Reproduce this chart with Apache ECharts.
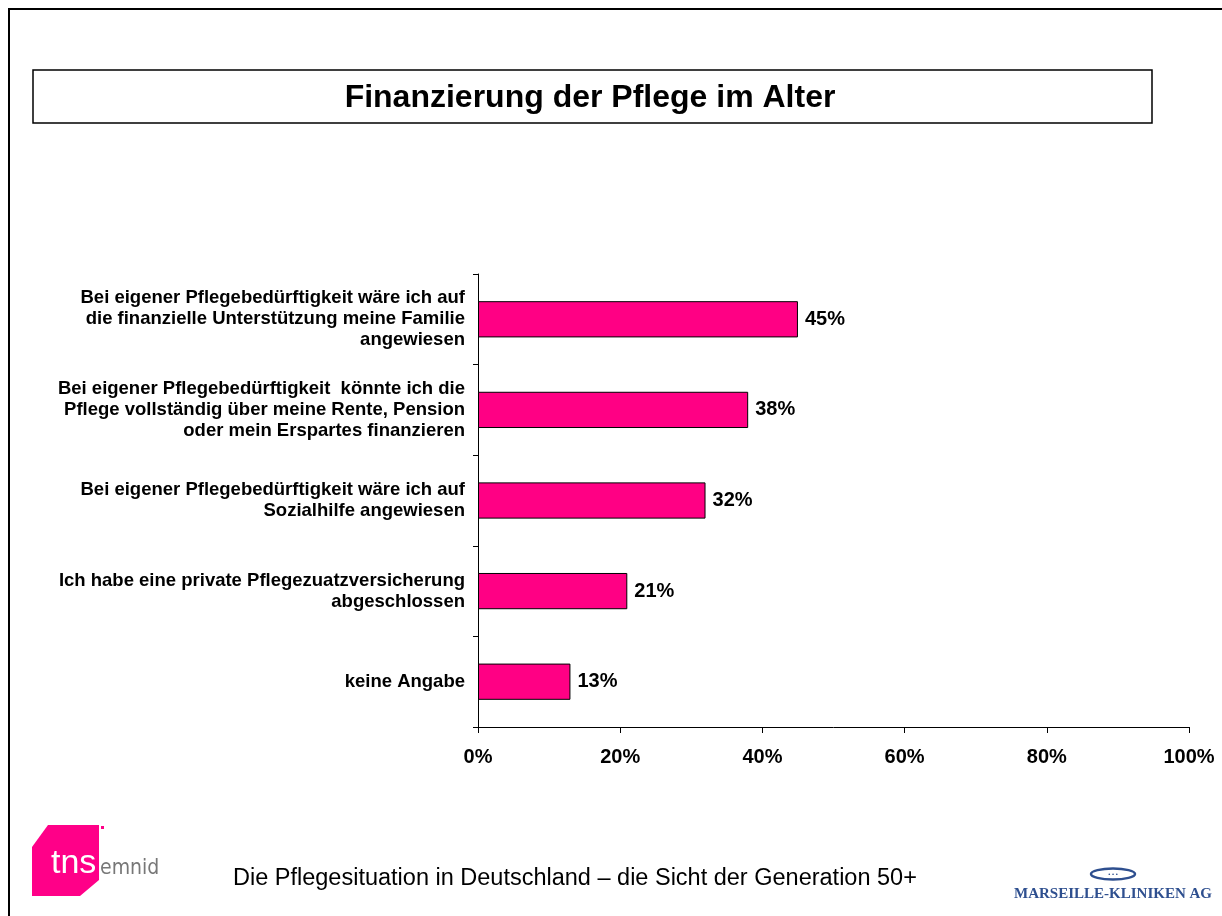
<!DOCTYPE html>
<html>
<head>
<meta charset="utf-8">
<script src="https://cdn.jsdelivr.net/npm/echarts@6/dist/echarts.min.js"></script>
<style>
  html, body { margin: 0; padding: 0; background: #fff; }
  #chart { width: 1222px; height: 916px; }
</style>
</head>
<body>
<div id="chart"></div>
<script>
var categories = [
    'Bei eigener Pflegebedürftigkeit wäre ich auf\ndie finanzielle Unterstützung meine Familie\nangewiesen',
    'Bei eigener Pflegebedürftigkeit  könnte ich die\nPflege vollständig über meine Rente, Pension\noder mein Erspartes finanzieren',
    'Bei eigener Pflegebedürftigkeit wäre ich auf\nSozialhilfe angewiesen',
    'Ich habe eine private Pflegezuatzversicherung\nabgeschlossen',
    'keine Angabe'
];
var values = [45, 38, 32, 21, 13];
var xTicks = [0, 20, 40, 60, 80, 100];

var font = 'Arial, "Liberation Sans", sans-serif';
var myChart = echarts.init(document.getElementById('chart'));

var option = {
    backgroundColor: '#fff',
    animation: false,
    grid: { left: 478, right: 33, top: 274, bottom: 189 },
    xAxis: {
        type: 'value',
        min: xTicks[0],
        max: xTicks[xTicks.length - 1],
        interval: 20,
        splitLine: { show: false },
        axisLine: { show: true, lineStyle: { color: '#000', width: 1 } },
        axisTick: { show: true, length: 6, lineStyle: { color: '#000' } },
        axisLabel: {
            formatter: '{value}%',
            color: '#000',
            fontFamily: font,
            fontWeight: 'bold',
            fontSize: 20,
            margin: 20
        }
    },
    yAxis: {
        type: 'category',
        inverse: true,
        data: categories,
        axisLine: { show: true, lineStyle: { color: '#000', width: 1 } },
        axisTick: { show: true, length: 5, lineStyle: { color: '#000' } },
        axisLabel: {
            color: '#000',
            fontFamily: font,
            fontWeight: 'bold',
            fontSize: 18.5,
            lineHeight: 21,
            align: 'right',
            margin: 13
        }
    },
    series: [{
        type: 'bar',
        data: values,
        barCategoryGap: '60%',
        itemStyle: { color: '#FF0084', borderColor: '#000', borderWidth: 1 },
        label: {
            show: true,
            position: 'right',
            distance: 7,
            formatter: '{c}%',
            color: '#000',
            fontFamily: font,
            fontWeight: 'bold',
            fontSize: 20
        }
    }],
    graphic: [
        // slide frame
        { type: 'polyline', shape: { points: [[9, 916], [9, 9], [1222, 9]] }, style: { stroke: '#000', lineWidth: 2, fill: null } },
        // title box
        { type: 'rect', shape: { x: 33, y: 70, width: 1119, height: 53 }, style: { fill: '#fff', stroke: '#000', lineWidth: 1.5 } },
        { type: 'text', style: { x: 590, y: 98, text: 'Finanzierung der Pflege im Alter', fontFamily: font, fontWeight: 'bold', fontSize: 32, fill: '#000', align: 'center', verticalAlign: 'middle' } },
        // footer text
        { type: 'text', style: { x: 233, y: 879, text: 'Die Pflegesituation in Deutschland – die Sicht der Generation 50+', fontFamily: font, fontSize: 23.5, fill: '#000', verticalAlign: 'middle' } },
        // tns emnid logo
        { type: 'polygon', shape: { points: [[48, 825], [99, 825], [99, 880], [80, 896], [32, 896], [32, 847]] }, style: { fill: '#FF0088' } },
        { type: 'rect', shape: { x: 101, y: 826, width: 3, height: 3 }, style: { fill: '#FF0088' } },
        { type: 'text', style: { x: 51, y: 864, text: 'tns', fontFamily: font, fontSize: 34, fill: '#fff', verticalAlign: 'middle' } },
        { type: 'text', style: { x: 100, y: 869, text: 'emnid', fontFamily: '"Liberation Sans Narrow", "DejaVu Sans Condensed", sans-serif', fontSize: 21, fill: '#777', verticalAlign: 'middle' } },
        // Marseille-Kliniken logo
        { type: 'ellipse', shape: { cx: 1113, cy: 874, rx: 22, ry: 5.5 }, style: { fill: '#fff', stroke: '#2E4F8F', lineWidth: 2.5 } },
        { type: 'text', style: { x: 1113, y: 874, text: '• • •', fontFamily: font, fontSize: 6, fill: '#2E4F8F', align: 'center', verticalAlign: 'middle' } },
        { type: 'text', style: { x: 1113, y: 894, text: 'MARSEILLE-KLINIKEN AG', fontFamily: '"Liberation Serif", "DejaVu Serif", serif', fontWeight: 'bold', fontSize: 15, fill: '#2E4F8F', align: 'center', verticalAlign: 'middle' } }
    ]
};
myChart.setOption(option);
</script>
</body>
</html>
